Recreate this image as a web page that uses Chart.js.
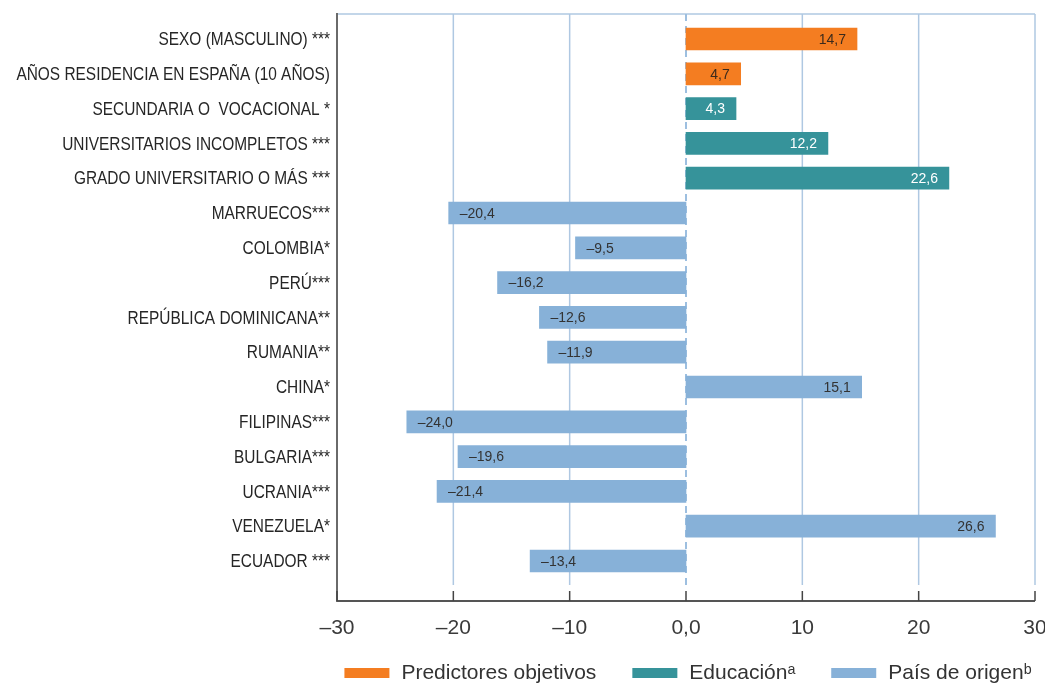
<!DOCTYPE html>
<html><head><meta charset="utf-8">
<script src="https://cdn.jsdelivr.net/npm/chart.js@4"></script>
<style>html,body{margin:0;padding:0;background:#fff;overflow:hidden}#wrap{width:1045px;height:684px;position:relative}</style>
</head><body><div id="wrap"><canvas id="c" width="1045" height="684"></canvas></div>
<script>
const categories = [
  'SEXO (MASCULINO) ***',
  'AÑOS RESIDENCIA EN ESPAÑA (10 AÑOS)',
  'SECUNDARIA O  VOCACIONAL *',
  'UNIVERSITARIOS INCOMPLETOS ***',
  'GRADO UNIVERSITARIO O MÁS ***',
  'MARRUECOS***',
  'COLOMBIA*',
  'PERÚ***',
  'REPÚBLICA DOMINICANA**',
  'RUMANIA**',
  'CHINA*',
  'FILIPINAS***',
  'BULGARIA***',
  'UCRANIA***',
  'VENEZUELA*',
  'ECUADOR ***'
];
const predictoresObjetivos = [14.7, 4.7, null, null, null, null, null, null, null, null, null, null, null, null, null, null];
const educacion = [null, null, 4.3, 12.2, 22.6, null, null, null, null, null, null, null, null, null, null, null];
const paisDeOrigen = [null, null, null, null, null, -20.4, -9.5, -16.2, -12.6, -11.9, 15.1, -24.0, -19.6, -21.4, 26.6, -13.4];
const seriesNames = ['Predictores objetivos', 'Educaciónᵃ', 'País de origenᵇ'];
const xTickValues = [-30, -20, -10, 0, 10, 20, 30];
const xTickLabels = ['–30', '–20', '–10', '0,0', '10', '20', '30'];

const SANS = '"Liberation Sans", Arial, sans-serif';

function fmt(v) {
  return (v < 0 ? '–' : '') + Math.abs(v).toFixed(1).replace('.', ',');
}

const framePlugin = {
  id: 'frame',
  beforeDatasetsDraw(chart) {
    const { ctx, chartArea: a, scales: { x } } = chart;
    const top = a.top - 7.6;
    const gridBottom = a.bottom + 6.6;
    const axisY = a.bottom + 22.6;
    ctx.save();
    ctx.strokeStyle = '#afc8e2';
    ctx.lineWidth = 1.5;
    ctx.beginPath();
    ctx.moveTo(x.getPixelForValue(-30), top);
    ctx.lineTo(x.getPixelForValue(30), top);
    ctx.stroke();
    xTickValues.forEach(v => {
      if (v === -30) return;
      const px = x.getPixelForValue(v);
      ctx.beginPath();
      if (v === 0) {
        ctx.setLineDash([7, 5]);
        ctx.strokeStyle = '#9dbfe0';
        ctx.lineWidth = 2;
      } else {
        ctx.setLineDash([]);
        ctx.strokeStyle = '#afc8e2';
        ctx.lineWidth = 1.5;
      }
      ctx.moveTo(px, top);
      ctx.lineTo(px, gridBottom);
      ctx.stroke();
    });
    ctx.setLineDash([]);
    ctx.strokeStyle = '#6a6a6a';
    ctx.lineWidth = 2;
    const lx = x.getPixelForValue(-30);
    ctx.beginPath();
    ctx.moveTo(lx, top - 1);
    ctx.lineTo(lx, axisY + 1);
    ctx.stroke();
    ctx.strokeStyle = '#555';
    ctx.beginPath();
    ctx.moveTo(lx, axisY);
    ctx.lineTo(x.getPixelForValue(30), axisY);
    ctx.stroke();
    ctx.lineWidth = 1.5;
    ctx.strokeStyle = '#444';
    xTickValues.forEach(v => {
      const px = x.getPixelForValue(v);
      ctx.beginPath();
      ctx.moveTo(px, axisY - 10);
      ctx.lineTo(px, axisY);
      ctx.stroke();
    });
    ctx.restore();
  },
  afterDatasetsDraw(chart) {
    const { ctx, scales: { y }, chartArea: a } = chart;
    ctx.save();
    ctx.font = '14px ' + SANS;
    ctx.textBaseline = 'middle';
    chart.data.datasets.forEach((ds, i) => {
      const meta = chart.getDatasetMeta(i);
      meta.data.forEach((el, j) => {
        const v = ds.data[j];
        if (v === null || v === undefined) return;
        ctx.fillStyle = ds.valueLabelColor;
        if (v >= 0) {
          ctx.textAlign = 'right';
          ctx.fillText(fmt(v), el.x - 11, el.y + 1);
        } else {
          ctx.textAlign = 'left';
          ctx.fillText(fmt(v), el.x + 11, el.y + 1);
        }
      });
    });
    ctx.font = '18.6px ' + SANS;
    ctx.fillStyle = '#262626';
    ctx.textAlign = 'right';
    ctx.textBaseline = 'middle';
    chart.data.labels.forEach((lab, i) => {
      const py = y.getPixelForValue(i);
      ctx.save();
      ctx.translate(a.left - 7, py + 1);
      ctx.scale(0.83, 1);
      ctx.fillText(lab, 0, 0);
      ctx.restore();
    });
    ctx.font = '21px ' + SANS;
    ctx.textAlign = 'left';
    const boxW = 45, boxH = 10, textGap = 12, itemGap = 36;
    const items = chart.data.datasets.map(ds => ({ text: ds.label, color: ds.backgroundColor, w: ctx.measureText(ds.label).width }));
    const total = items.reduce((s, it) => s + boxW + textGap + it.w, 0) + itemGap * (items.length - 1);
    let cx = (a.left + a.right) / 2 - total / 2 + 2;
    const ly = 673;
    items.forEach(it => {
      ctx.fillStyle = it.color;
      ctx.fillRect(cx, ly - boxH / 2, boxW, boxH);
      ctx.fillStyle = '#333';
      ctx.fillText(it.text, cx + boxW + textGap, ly);
      cx += boxW + textGap + it.w + itemGap;
    });
    ctx.restore();
  }
};

new Chart(document.getElementById('c'), {
  type: 'bar',
  data: {
    labels: categories,
    datasets: [
      { label: seriesNames[0], data: predictoresObjetivos, backgroundColor: '#f47d21', borderWidth: 0, valueLabelColor: '#3b2a1c' },
      { label: seriesNames[1], data: educacion, backgroundColor: '#36939a', borderWidth: 0, valueLabelColor: '#ffffff' },
      { label: seriesNames[2], data: paisDeOrigen, backgroundColor: '#87b1d8', borderWidth: 0, valueLabelColor: '#333333' }
    ]
  },
  options: {
    indexAxis: 'y',
    responsive: false,
    animation: false,
    devicePixelRatio: 1,
    layout: { padding: { top: 21.6, right: 10, left: 0, bottom: 0 } },
    datasets: { bar: { barThickness: 22, categoryPercentage: 1 } },
    scales: {
      x: {
        type: 'linear',
        min: -30, max: 30,
        stacked: true,
        afterBuildTicks: s => { s.ticks = xTickValues.map(v => ({ value: v })); },
        afterFit: s => { s.height = 105.6; s.paddingLeft = 0; s.paddingRight = 0; },
        grid: { display: false, drawTicks: false },
        border: { display: false },
        ticks: {
          padding: 37,
          font: { family: SANS, size: 21 },
          color: '#3a3a3a',
          maxRotation: 0,
          callback: v => xTickLabels[xTickValues.indexOf(v)]
        }
      },
      y: {
        stacked: true,
        afterFit: s => { s.width = 337; s.paddingTop = 0; s.paddingBottom = 0; },
        grid: { display: false, drawTicks: false },
        border: { display: false },
        ticks: { display: false, autoSkip: false }
      }
    },
    plugins: {
      tooltip: { enabled: false },
      legend: { display: false }
    }
  },
  plugins: [framePlugin]
});
</script>
</body></html>
